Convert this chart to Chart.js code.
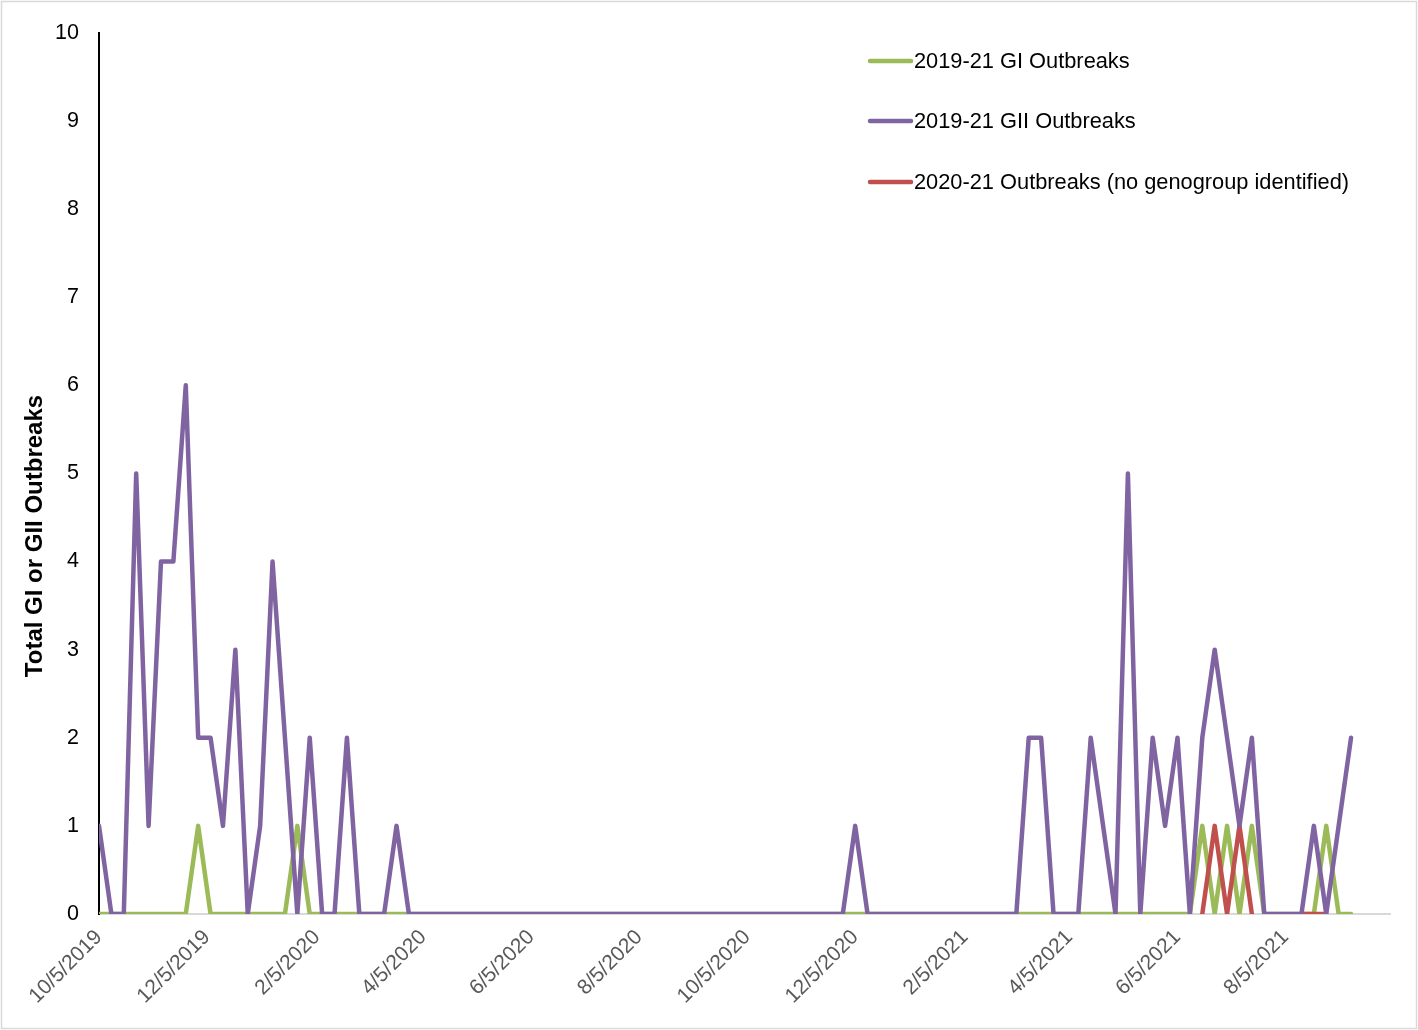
<!DOCTYPE html>
<html>
<head>
<meta charset="utf-8">
<script src="https://cdn.jsdelivr.net/npm/chart.js@4.4.1/dist/chart.umd.min.js"></script>
<style>
  html, body { margin: 0; padding: 0; background: #ffffff; }
  #wrap { width: 1418px; height: 1030px; position: relative; }
</style>
</head>
<body>
<div id="wrap"><canvas id="c" width="1418" height="1030"></canvas></div>
<script>
// ---- Data (weekly, starting week of 10/5/2019) ----
const firstWeek = '2019-10-05';
const seriesNames = ['2019-21 GI Outbreaks', '2019-21 GII Outbreaks', '2020-21 Outbreaks (no genogroup identified)'];

const giOutbreaks = [
  0,0,0,0,0,0,0,0,1,0, 0,0,0,0,0,0,1,0,0,0,
  0,0,0,0,0,0,0,0,0,0, 0,0,0,0,0,0,0,0,0,0,
  0,0,0,0,0,0,0,0,0,0, 0,0,0,0,0,0,0,0,0,0,
  0,0,0,0,0,0,0,0,0,0, 0,0,0,0,0,0,0,0,0,0,
  0,0,0,0,0,0,0,0,0,1, 0,1,0,1,0,0,0,0,0,1,
  0,0
];
const giiOutbreaks = [
  1,0,0,5,1,4,4,6,2,2, 1,3,0,1,4,2,0,2,0,0,
  2,0,0,0,1,0,0,0,0,0, 0,0,0,0,0,0,0,0,0,0,
  0,0,0,0,0,0,0,0,0,0, 0,0,0,0,0,0,0,0,0,0,
  0,1,0,0,0,0,0,0,0,0, 0,0,0,0,0,2,2,0,0,0,
  2,1,0,5,0,2,1,2,0,2, 3,2,1,2,0,0,0,0,1,0,
  1,2
];
const noGenogroupOutbreaks = [
  null,null,null,null,null,null,null,null,null,null, null,null,null,null,null,null,null,null,null,null,
  null,null,null,null,null,null,null,null,null,null, null,null,null,null,null,null,null,null,null,null,
  null,null,null,null,null,null,null,null,null,null, null,null,null,null,null,null,null,null,null,null,
  null,null,null,null,null,null,null,null,null,null, null,null,null,null,null,null,null,null,null,null,
  null,null,null,null,null,null,null,null,null,0, 1,0,1,0,null,null,null,0,0,0,
  null,null
];
const tickLabels = ['10/5/2019','12/5/2019','2/5/2020','4/5/2020','6/5/2020','8/5/2020',
                    '10/5/2020','12/5/2020','2/5/2021','4/5/2021','6/5/2021','8/5/2021'];
const axisEndLabel = '10/3/2021';
const yTicks = [0,1,2,3,4,5,6,7,8,9,10];

// ---- helpers ----
const DAY = 86400000;
const t0 = Date.parse(firstWeek + 'T00:00:00Z');
function usToDay(s) {
  const [m, d, y] = s.split('/').map(Number);
  return Math.round((Date.UTC(y, m - 1, d) - t0) / DAY);
}
const tickDays = tickLabels.map(usToDay);
function toPoints(arr) { return arr.map((v, i) => ({ x: i * 7, y: v })); }

const FONT = '"Liberation Sans", Arial, Helvetica, sans-serif';
const colors = ['#9BBB59', '#8064A2', '#C0504D'];

const legendPlugin = {
  id: 'insideLegend',
  afterDraw(chart) {
    const ctx = chart.ctx;
    ctx.save();
    const rows = [61, 121, 182];
    chart.data.datasets.forEach((ds, i) => {
      const y = rows[i];
      ctx.strokeStyle = ds.borderColor;
      ctx.lineWidth = 4.5;
      ctx.lineCap = 'round';
      ctx.beginPath();
      ctx.moveTo(870, y);
      ctx.lineTo(911, y);
      ctx.stroke();
      ctx.fillStyle = '#000000';
      ctx.font = '21.8px ' + FONT;
      ctx.textAlign = 'left';
      ctx.textBaseline = 'middle';
      ctx.fillText(ds.label, 914, y + 1);
    });
    ctx.restore();
  }
};

const frameAndTitlePlugin = {
  id: 'frameAndTitle',
  afterDraw(chart) {
    const ctx = chart.ctx;
    ctx.save();
    ctx.strokeStyle = '#D9D9D9';
    ctx.lineWidth = 1.5;
    ctx.strokeRect(1.5, 1.5, 1415, 1027);
    ctx.translate(35, 536);
    ctx.rotate(-Math.PI / 2);
    ctx.fillStyle = '#000000';
    ctx.font = 'bold 24px ' + FONT;
    ctx.textAlign = 'center';
    ctx.textBaseline = 'middle';
    ctx.fillText('Total GI or GII Outbreaks', 0, 0);
    ctx.restore();
  }
};

new Chart(document.getElementById('c'), {
  type: 'line',
  data: {
    datasets: [
      { label: seriesNames[0], data: toPoints(giOutbreaks), borderColor: colors[0], order: 2 },
      { label: seriesNames[1], data: toPoints(giiOutbreaks), borderColor: colors[1], order: 0 },
      { label: seriesNames[2], data: toPoints(noGenogroupOutbreaks), borderColor: colors[2], order: 1, spanGaps: false }
    ]
  },
  options: {
    responsive: false,
    animation: false,
    layout: { padding: { top: 26, right: 28, left: 0, bottom: 0 } },
    elements: {
      line: { borderWidth: 4.5, tension: 0, borderJoinStyle: 'round', borderCapStyle: 'round', fill: false },
      point: { radius: 0, hoverRadius: 0 }
    },
    plugins: { legend: { display: false }, tooltip: { enabled: false } },
    scales: {
      x: {
        type: 'linear',
        min: 0,
        max: usToDay(axisEndLabel),
        grid: { display: false, drawTicks: false },
        border: { display: true, color: '#D9D9D9', width: 2 },
        afterBuildTicks: (scale) => { scale.ticks = tickDays.map(v => ({ value: v })); },
        afterFit: (scale) => { scale.height = 116; },
        ticks: {
          autoSkip: false,
          minRotation: 45,
          maxRotation: 45,
          padding: 11,
          color: '#595959',
          font: { family: FONT, size: 21 },
          callback: (v) => { const k = tickDays.indexOf(v); return k >= 0 ? tickLabels[k] : ''; }
        }
      },
      y: {
        min: 0,
        max: 10,
        grid: { display: false, drawTicks: false },
        border: { display: true, color: '#000000', width: 2 },
        afterBuildTicks: (scale) => { scale.ticks = yTicks.map(v => ({ value: v })); },
        afterFit: (scale) => { scale.width = 99; },
        ticks: {
          padding: 20,
          color: '#000000',
          font: { family: FONT, size: 21.5 }
        }
      }
    }
  },
  plugins: [legendPlugin, frameAndTitlePlugin]
});
</script>
</body>
</html>
